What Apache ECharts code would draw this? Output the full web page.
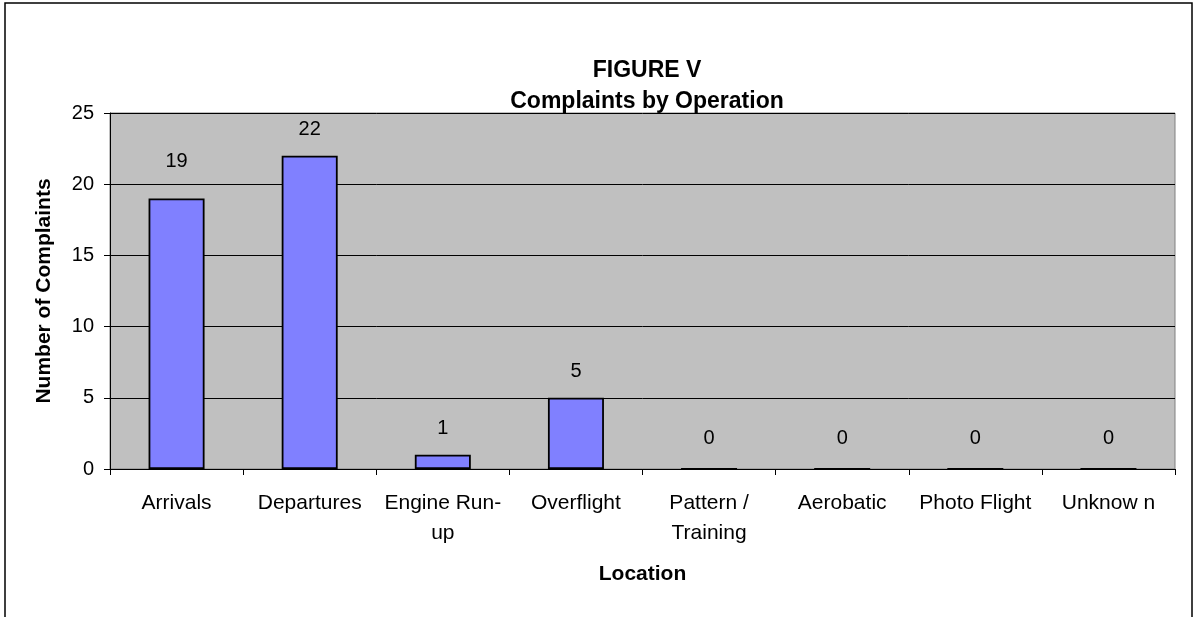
<!DOCTYPE html>
<html>
<head>
<meta charset="utf-8">
<script src="https://cdn.jsdelivr.net/npm/echarts@6/dist/echarts.min.js"></script>
<style>
  html, body { margin: 0; padding: 0; background: #fff; }
  #grafico { width: 1195px; height: 617px; }
</style>
</head>
<body>
<div id="grafico"></div>
<script>
const operaciones = ['Arrivals', 'Departures', 'Engine Run-\nup', 'Overflight', 'Pattern /\nTraining', 'Aerobatic', 'Photo Flight', 'Unknow n'];
const quejas = [19, 22, 1, 5, 0, 0, 0, 0];
const marcasY = [0, 5, 10, 15, 20, 25];

const fuente = 'Arial, "Liberation Sans", sans-serif';
const myChart = echarts.init(document.getElementById('grafico'), null, { renderer: 'canvas' });

// Excel deja la etiqueta de "19" mas alta y las de cero tambien algo mas arriba
const datosBarras = quejas.map(function (v, i) {
    if (i === 0) return { value: v, label: { distance: 27 } };
    if (v === 0) return { value: v, label: { distance: 20 } };
    return v;
});

const option = {
    backgroundColor: '#ffffff',
    animation: false,
    textStyle: { fontFamily: fuente, color: '#000' },
    title: {
        left: 642,
        textAlign: 'center',
        top: 50,
        text: 'FIGURE V\nComplaints by Operation',
        textStyle: {
            fontFamily: fuente,
            fontSize: 23,
            fontWeight: 'bold',
            color: '#000',
            lineHeight: 31
        }
    },
    graphic: [
        {
            type: 'rect',
            shape: { x: 5, y: 3, width: 1187, height: 700 },
            style: { fill: 'none', stroke: '#000', lineWidth: 1.5 },
            silent: true
        }
    ],
    grid: {
        left: 110,
        top: 113,
        right: 20,
        bottom: 148,
        show: true,
        backgroundColor: '#C0C0C0',
        borderColor: '#808080',
        borderWidth: 1
    },
    xAxis: {
        type: 'category',
        data: operaciones,
        name: 'Location',
        nameLocation: 'middle',
        nameGap: 95,
        nameTextStyle: { fontFamily: fuente, fontSize: 21, fontWeight: 'bold', color: '#000' },
        axisLine: { show: true, lineStyle: { color: '#000', width: 1 } },
        axisTick: { show: true, inside: false, length: 6, alignWithLabel: false, lineStyle: { color: '#000' } },
        axisLabel: {
            interval: 0,
            margin: 19,
            fontFamily: fuente,
            fontSize: 21,
            color: '#000',
            lineHeight: 30
        },
        splitLine: { show: false }
    },
    yAxis: {
        type: 'value',
        min: marcasY[0],
        max: marcasY[marcasY.length - 1],
        interval: 5,
        name: 'Number of Complaints',
        nameLocation: 'middle',
        nameGap: 55,
        nameTextStyle: { fontFamily: fuente, fontSize: 21, fontWeight: 'bold', color: '#000' },
        axisLine: { show: true, lineStyle: { color: '#000', width: 1 } },
        axisTick: { show: true, inside: false, length: 6, lineStyle: { color: '#000' } },
        axisLabel: {
            margin: 16,
            fontFamily: fuente,
            fontSize: 20,
            color: '#000'
        },
        splitLine: { show: true, lineStyle: { color: '#000', width: 1 } }
    },
    series: [
        {
            name: 'Complaints',
            type: 'bar',
            data: datosBarras,
            barWidth: 56,
            itemStyle: {
                color: '#8080FF',
                borderColor: '#000',
                borderWidth: 1.8
            },
            label: {
                show: true,
                position: 'top',
                distance: 16,
                fontFamily: fuente,
                fontSize: 20,
                color: '#000'
            }
        }
    ]
};

option && myChart.setOption(option);
</script>
</body>
</html>
